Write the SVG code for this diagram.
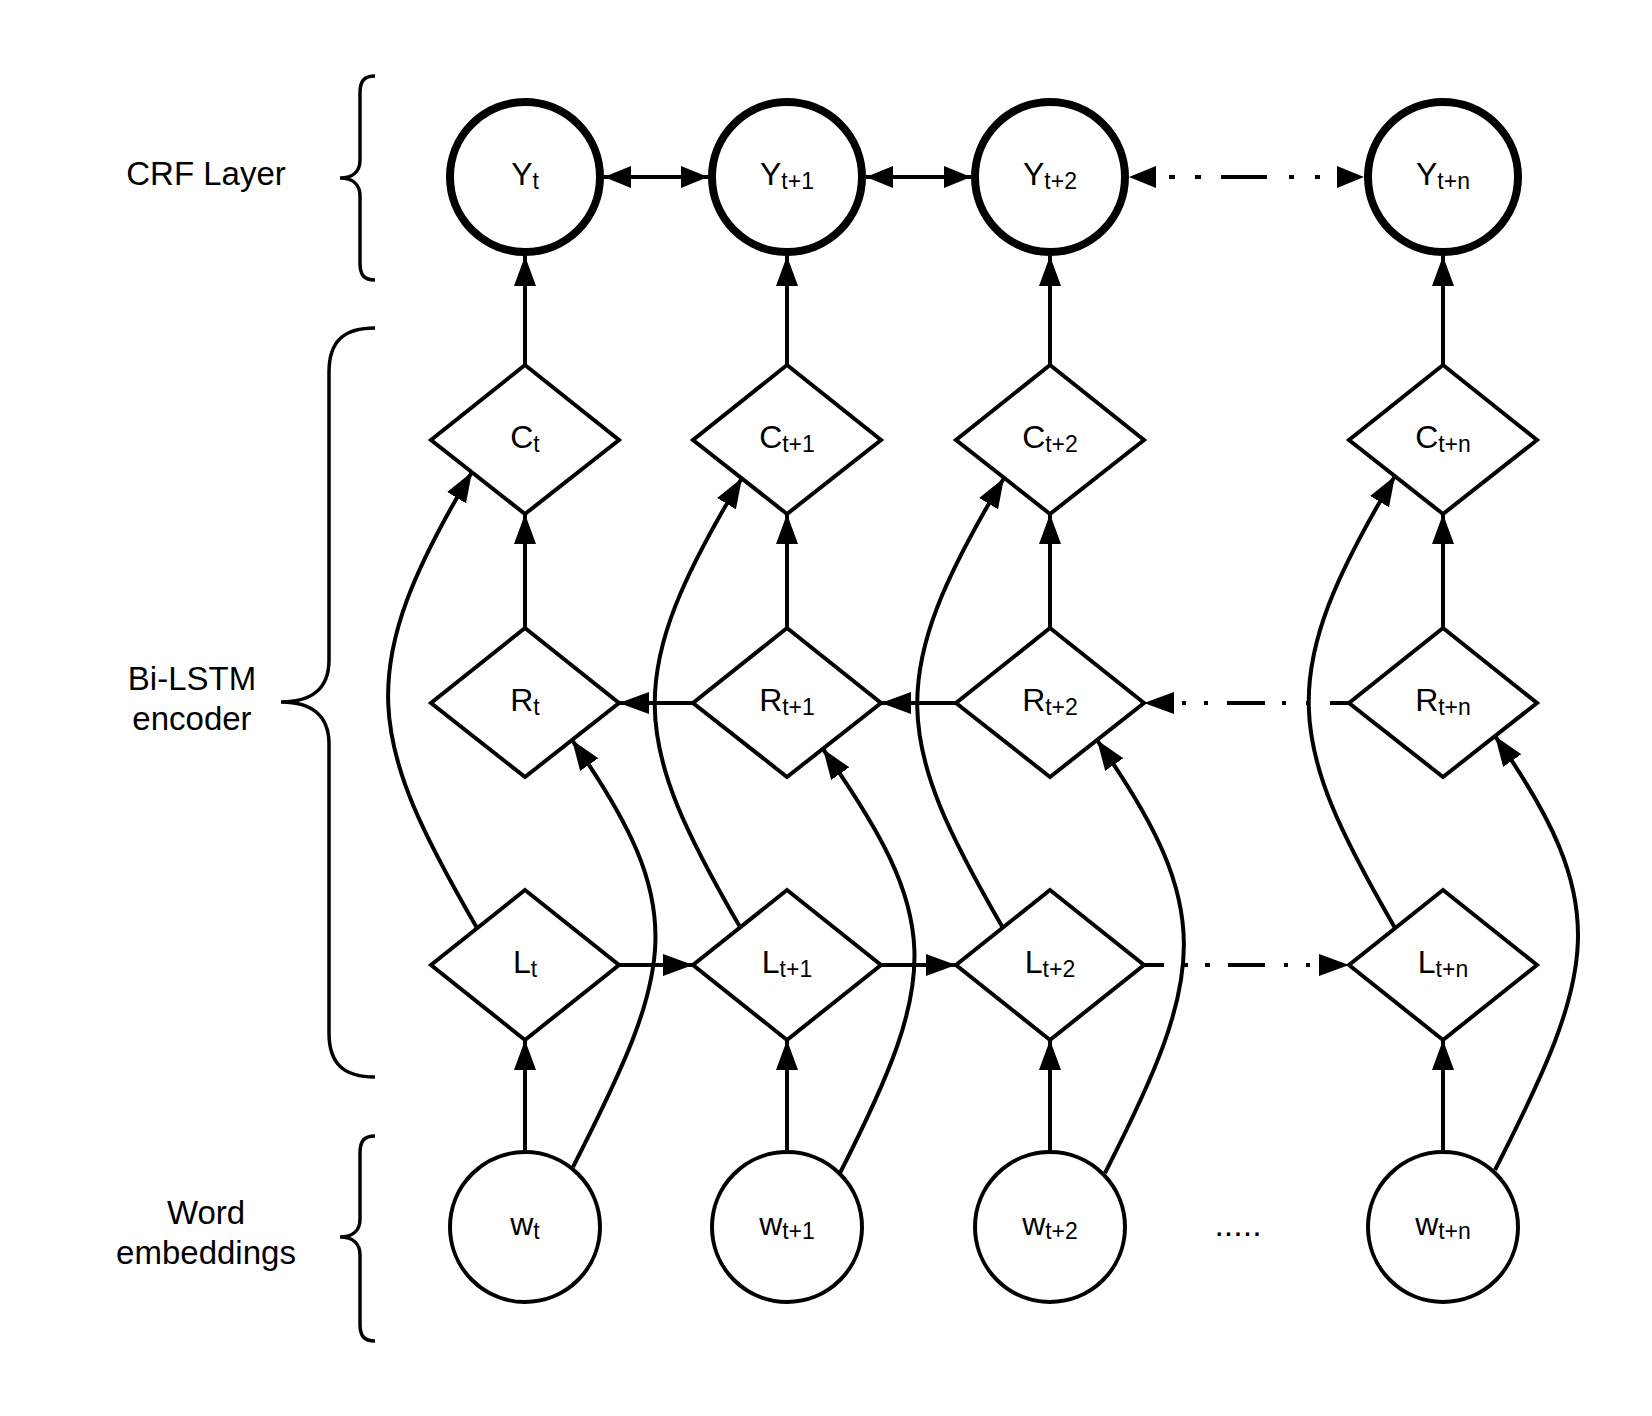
<svg xmlns="http://www.w3.org/2000/svg" width="1652" height="1416" viewBox="0 0 1652 1416">
<style>
.node{fill:#fff;stroke:#000;stroke-width:4}
.ynode{fill:#fff;stroke:#000;stroke-width:8}
.lbl{font-family:"Liberation Sans",Arial,sans-serif;font-size:32px;text-anchor:middle;fill:#000}
.sub{font-size:23px}
.side{font-family:"Liberation Sans",Arial,sans-serif;font-size:33px;text-anchor:middle;fill:#000}
.edge{fill:none;stroke:#000;stroke-width:4}
.brace{fill:none;stroke:#000;stroke-width:3.5}
</style>
<defs>
<marker id="arr" markerUnits="userSpaceOnUse" markerWidth="30" markerHeight="22" refX="30" refY="11" orient="auto" viewBox="0 0 30 22">
<path d="M0,0 L30,11 L0,22 Z" fill="#000"/>
</marker>
<marker id="arrY" markerUnits="userSpaceOnUse" markerWidth="27" markerHeight="22" refX="27" refY="11" orient="auto-start-reverse" viewBox="0 0 27 22">
<path d="M0,0 L27,11 L0,22 Z" fill="#000"/>
</marker>
</defs>
<rect width="1652" height="1416" fill="#fff"/>

<g id="braces">
<path class="brace" d="M375,76 C364,76 360,81 360,93 L360,160 C360,172 352,178 340,178 C352,178 360,184 360,196 L360,263 C360,275 364,280 375,280"/>
<path class="brace" d="M375,328 C345,328 329,340 329,372 L329,660 C329,690 310,702 281,702 C310,702 329,714 329,744 L329,1033 C329,1065 345,1077 375,1077"/>
<path class="brace" d="M375,1136 C364,1136 360,1141 360,1153 L360,1219 C360,1231 352,1237 340,1237 C352,1237 360,1243 360,1255 L360,1324 C360,1336 364,1341 375,1341"/>
</g>
<g id="side-labels">
<text class="side" x="206" y="185">CRF Layer</text>
<text class="side" x="192" y="690">Bi-LSTM</text>
<text class="side" x="192" y="730">encoder</text>
<text class="side" x="206" y="1224">Word</text>
<text class="side" x="206" y="1264">embeddings</text>
</g>

<g id="Y_t"><circle class="ynode" cx="525" cy="177" r="75"/><text class="lbl" x="525" y="185">Y<tspan class="sub" dy="4">t</tspan></text></g>
<g id="Y_t1"><circle class="ynode" cx="787" cy="177" r="75"/><text class="lbl" x="787" y="185">Y<tspan class="sub" dy="4">t+1</tspan></text></g>
<g id="Y_t2"><circle class="ynode" cx="1050" cy="177" r="75"/><text class="lbl" x="1050" y="185">Y<tspan class="sub" dy="4">t+2</tspan></text></g>
<g id="Y_tn"><circle class="ynode" cx="1443" cy="177" r="75"/><text class="lbl" x="1443" y="185">Y<tspan class="sub" dy="4">t+n</tspan></text></g>

<g id="C_t"><path class="node" d="M525,365 L619,440 L525,514 L431,440 Z"/><text class="lbl" x="525" y="448">C<tspan class="sub" dy="4">t</tspan></text></g>
<g id="C_t1"><path class="node" d="M787,365 L881,440 L787,514 L693,440 Z"/><text class="lbl" x="787" y="448">C<tspan class="sub" dy="4">t+1</tspan></text></g>
<g id="C_t2"><path class="node" d="M1050,365 L1144,440 L1050,514 L956,440 Z"/><text class="lbl" x="1050" y="448">C<tspan class="sub" dy="4">t+2</tspan></text></g>
<g id="C_tn"><path class="node" d="M1443,365 L1537,440 L1443,514 L1349,440 Z"/><text class="lbl" x="1443" y="448">C<tspan class="sub" dy="4">t+n</tspan></text></g>

<g id="R_t"><path class="node" d="M525,628 L619,703 L525,777 L431,703 Z"/><text class="lbl" x="525" y="711">R<tspan class="sub" dy="4">t</tspan></text></g>
<g id="R_t1"><path class="node" d="M787,628 L881,703 L787,777 L693,703 Z"/><text class="lbl" x="787" y="711">R<tspan class="sub" dy="4">t+1</tspan></text></g>
<g id="R_t2"><path class="node" d="M1050,628 L1144,703 L1050,777 L956,703 Z"/><text class="lbl" x="1050" y="711">R<tspan class="sub" dy="4">t+2</tspan></text></g>
<g id="R_tn"><path class="node" d="M1443,628 L1537,703 L1443,777 L1349,703 Z"/><text class="lbl" x="1443" y="711">R<tspan class="sub" dy="4">t+n</tspan></text></g>

<g id="L_t"><path class="node" d="M525,890 L619,965 L525,1040 L431,965 Z"/><text class="lbl" x="525" y="973">L<tspan class="sub" dy="4">t</tspan></text></g>
<g id="L_t1"><path class="node" d="M787,890 L881,965 L787,1040 L693,965 Z"/><text class="lbl" x="787" y="973">L<tspan class="sub" dy="4">t+1</tspan></text></g>
<g id="L_t2"><path class="node" d="M1050,890 L1144,965 L1050,1040 L956,965 Z"/><text class="lbl" x="1050" y="973">L<tspan class="sub" dy="4">t+2</tspan></text></g>
<g id="L_tn"><path class="node" d="M1443,890 L1537,965 L1443,1040 L1349,965 Z"/><text class="lbl" x="1443" y="973">L<tspan class="sub" dy="4">t+n</tspan></text></g>

<g id="w_t"><circle class="node" cx="525" cy="1227" r="75"/><text class="lbl" x="525" y="1235">w<tspan class="sub" dy="4">t</tspan></text></g>
<g id="w_t1"><circle class="node" cx="787" cy="1227" r="75"/><text class="lbl" x="787" y="1235">w<tspan class="sub" dy="4">t+1</tspan></text></g>
<g id="w_t2"><circle class="node" cx="1050" cy="1227" r="75"/><text class="lbl" x="1050" y="1235">w<tspan class="sub" dy="4">t+2</tspan></text></g>
<g id="w_tn"><circle class="node" cx="1443" cy="1227" r="75"/><text class="lbl" x="1443" y="1235">w<tspan class="sub" dy="4">t+n</tspan></text></g>
<g id="ellipsis"><text class="lbl" x="1238" y="1236" style="font-size:34px">.....</text></g>

<g id="connectors">
<path class="edge" d="M604,177 L708,177" marker-start="url(#arrY)" marker-end="url(#arrY)"/>
<path class="edge" d="M866,177 L971,177" marker-start="url(#arrY)" marker-end="url(#arrY)"/>
<path class="edge" d="M1129,177 L1364,177" stroke-dasharray="0 40 6 20 6 20 46 22 5 21 5 400" marker-start="url(#arrY)" marker-end="url(#arrY)"/>
<path class="edge" d="M525,365 L525,256" marker-end="url(#arr)"/>
<path class="edge" d="M787,365 L787,256" marker-end="url(#arr)"/>
<path class="edge" d="M1050,365 L1050,256" marker-end="url(#arr)"/>
<path class="edge" d="M1443,365 L1443,256" marker-end="url(#arr)"/>
<path class="edge" d="M525,628 L525,514" marker-end="url(#arr)"/>
<path class="edge" d="M787,628 L787,514" marker-end="url(#arr)"/>
<path class="edge" d="M1050,628 L1050,514" marker-end="url(#arr)"/>
<path class="edge" d="M1443,628 L1443,514" marker-end="url(#arr)"/>
<path class="edge" d="M525,1152 L525,1040" marker-end="url(#arr)"/>
<path class="edge" d="M787,1152 L787,1040" marker-end="url(#arr)"/>
<path class="edge" d="M1050,1152 L1050,1040" marker-end="url(#arr)"/>
<path class="edge" d="M1443,1152 L1443,1040" marker-end="url(#arr)"/>
<path class="edge" d="M693,703 L619,703" marker-end="url(#arr)"/>
<path class="edge" d="M956,703 L881,703" marker-end="url(#arr)"/>
<path class="edge" d="M1349,703 L1144,703" stroke-dasharray="19 20 4 20 4 17 38 19 4 18 4 400" marker-end="url(#arr)"/>
<path class="edge" d="M619,965 L693,965" marker-end="url(#arr)"/>
<path class="edge" d="M881,965 L956,965" marker-end="url(#arr)"/>
<path class="edge" d="M1144,965 L1349,965" stroke-dasharray="20 19 5 17 5 18 37 19 4 18 4 400" marker-end="url(#arr)"/>
<path class="edge" d="M477,928 C367,738 352,672 472,472" marker-end="url(#arr)"/>
<path class="edge" d="M740,927 C630,737 622,677 742,478" marker-end="url(#arr)"/>
<path class="edge" d="M1003,928 C893,738 884,678 1004,478" marker-end="url(#arr)"/>
<path class="edge" d="M1395,928 C1285,738 1275,676 1395,476" marker-end="url(#arr)"/>
<path class="edge" d="M573,1167 C675,967 691,910 572,740" marker-end="url(#arr)"/>
<path class="edge" d="M840,1173 C942,973 942,919 823,749" marker-end="url(#arr)"/>
<path class="edge" d="M1105,1173 C1207,973 1216,910 1097,740" marker-end="url(#arr)"/>
<path class="edge" d="M1495,1170 C1597,970 1614,906 1495,736" marker-end="url(#arr)"/>
</g>
</svg>
